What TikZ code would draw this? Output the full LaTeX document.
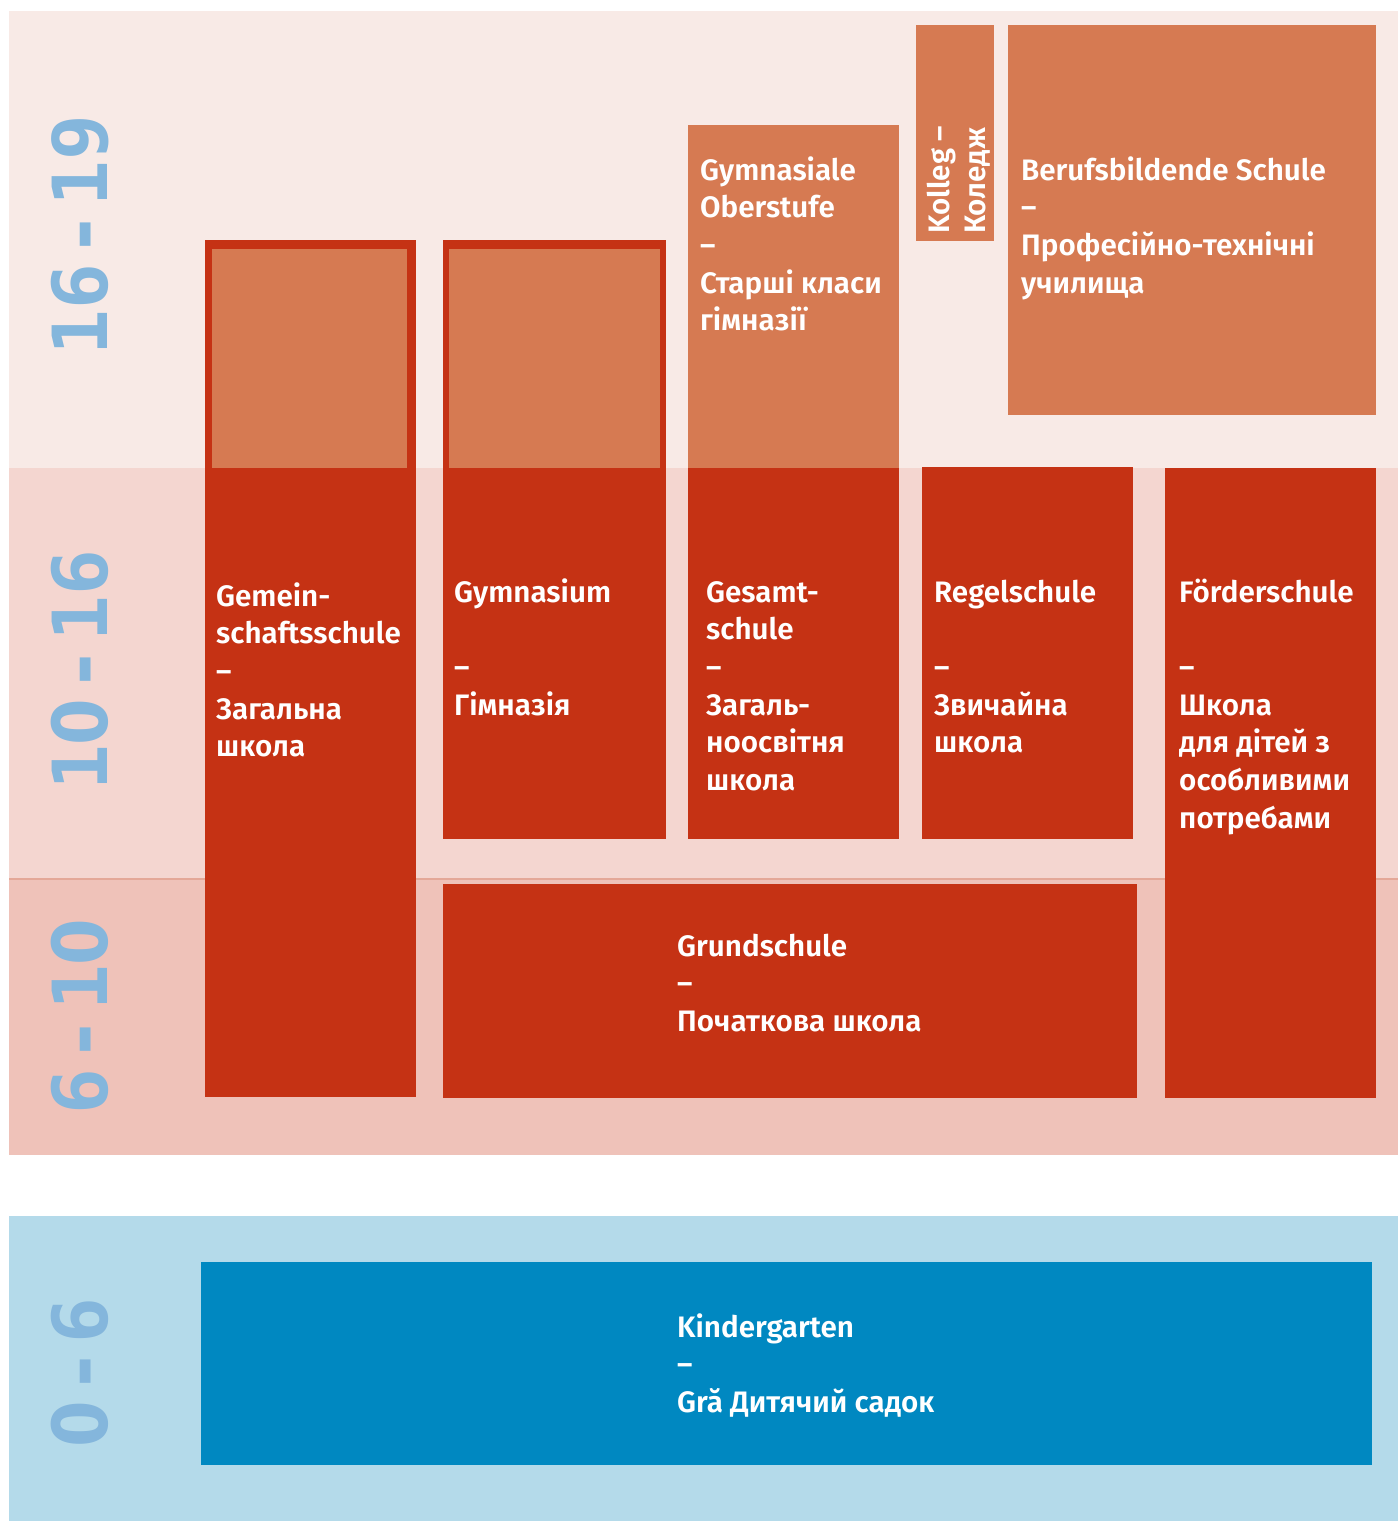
\documentclass[tikz,border=0pt]{standalone}
\usepackage{fontspec}
\IfFontExistsTF{Fira Sans SemiBold}{\setmainfont{Fira Sans SemiBold}\newcommand\wt{}}{\setmainfont{Fira Sans}\newcommand\wt{\bfseries}}
\newfontfamily\agefont{DejaVu Sans Mono}
\newfontfamily\agezerofont{DejaVu Sans}
\newcommand\zr{\makebox[0.602em]{\agezerofont\bfseries\scalebox{0.88}[1]{0}}}
\definecolor{bandtop}{HTML}{F8EAE6}
\definecolor{bandmid}{HTML}{F4D6D0}
\definecolor{bandbot}{HTML}{EFC2B9}
\definecolor{bandline}{HTML}{E4A898}
\definecolor{bandblue}{HTML}{B4DAEA}
\definecolor{kblue}{HTML}{0088C1}
\definecolor{sred}{HTML}{C53214}
\definecolor{sorange}{HTML}{D67A52}
\definecolor{agecol}{HTML}{84B6DC}
\newcommand\lblfont{\fontsize{29.6}{37.7}\selectfont\wt}
\newcommand\mlines[1]{\vtop{\baselineskip=37.7pt\lineskiplimit=-100pt\lineskip=0pt #1}}
\newcommand\oneline[1]{\hbox{#1}}
\begin{document}
\begin{tikzpicture}[x=1pt,y=-1pt,
  lbl/.style={text=white, font=\lblfont, inner sep=0pt, anchor=base west},
  age/.style={text=agecol, font={\agefont\bfseries\fontsize{76}{80}\selectfont\spaceskip=0.08em\relax}, inner sep=0pt, rotate=90}]
\useasboundingbox (0,0) rectangle (1398,1521);
\fill[white] (0,0) rectangle (1398,1521);
% bands
\fill[bandtop] (9,11) rectangle (1398,468);
\fill[bandmid] (9,468) rectangle (1398,879);
\fill[bandbot] (9,879) rectangle (1398,1155);
\draw[bandline, line width=1.2pt] (9,879) -- (1398,879);
\fill[bandblue] (9,1216) rectangle (1398,1521);
% age labels
\node[age] (a1) at (80,235) {16 - 19};
\node[age] (a2) at (80,670) {1\zr{} - 16};
\node[age] (a3) at (80,1017) {6 - 1\zr};
\node[age] (a4) at (80,1372) {\zr{} - 6};
% Gemeinschaftsschule
\fill[sred] (205,240) rectangle (416,1097);
\fill[sorange] (212,249) rectangle (407,468);
% Gymnasium
\fill[sred] (443,240) rectangle (666,839);
\fill[sorange] (449,249) rectangle (660,468);
% Gymnasiale Oberstufe / Gesamtschule
\fill[sorange] (688,125) rectangle (899,468);
\fill[sred] (688,468) rectangle (899,839);
% Kolleg
\fill[sorange] (916,25) rectangle (994,241);
% Berufsbildende Schule
\fill[sorange] (1008,25) rectangle (1376,415);
% Regelschule
\fill[sred] (922,467) rectangle (1133,839);
% Foerderschule
\fill[sred] (1165,468) rectangle (1376,1098);
% Grundschule
\fill[sred] (443,884) rectangle (1137,1098);
% Kindergarten
\fill[kblue] (201,1262) rectangle (1372,1465);
% texts
\node[lbl] (t1) at (216,606) {\mlines{\oneline{Gemein-}\oneline{schaftsschule}\oneline{–}\oneline{Загальна}\oneline{школа}}};
\node[lbl] (t2) at (454,602) {\mlines{\oneline{Gymnasium}\oneline{}\oneline{–}\oneline{Гімназія}}};
\node[lbl] (t3) at (706,602) {\mlines{\oneline{Gesamt-}\oneline{schule}\oneline{–}\oneline{Загаль-}\oneline{ноосвітня}\oneline{школа}}};
\node[lbl] (t4) at (934,602) {\mlines{\oneline{Regelschule}\oneline{}\oneline{–}\oneline{Звичайна}\oneline{школа}}};
\node[lbl] (t5) at (1179,602) {\mlines{\oneline{Förderschule}\oneline{}\oneline{–}\oneline{Школа}\oneline{для дітей з}\oneline{особливими}\oneline{потребами}}};
\node[lbl] (t6) at (677,956) {\mlines{\oneline{Grundschule}\oneline{–}\oneline{Початкова школа}}};
\node[lbl] (t7) at (677,1337) {\mlines{\oneline{Kindergarten}\oneline{–}\oneline{Gră Дитячий садок}}};
\node[lbl] (t8) at (700,180) {\mlines{\oneline{Gymnasiale}\oneline{Oberstufe}\oneline{–}\oneline{Старші класи}\oneline{гімназії}}};
\node[lbl] (t9) at (1021,180) {\mlines{\oneline{Berufsbildende Schule}\oneline{–}\oneline{Професійно-технічні}\oneline{училища}}};
\node[lbl, rotate=90] (t10) at (949,234) {\mlines{\baselineskip=36pt\oneline{Kolleg –}\oneline{Коледж}}};
\end{tikzpicture}
\end{document}
